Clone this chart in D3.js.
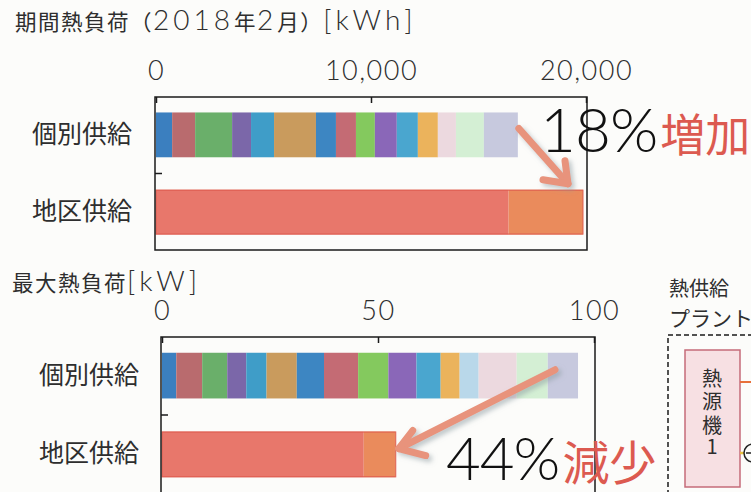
<!DOCTYPE html>
<html>
<head>
<meta charset="utf-8">
<script src="https://cdn.jsdelivr.net/npm/d3@7"></script>
<style>
  html, body { margin: 0; padding: 0; background: #fcfcfa; }
  svg { display: block; }
</style>
</head>
<body>
<svg id="chart" width="751" height="492"></svg>
<script>
// ---------- data ----------
const categories = ["個別供給", "地区供給"];
const buildingColors = ["#3b7fbf", "#b96b6e", "#6aaf6a", "#7b67a9", "#3f9dc8", "#c99b5d",
  "#3d86c2", "#c46b74", "#84c95e", "#8a67b8", "#4aa6cf", "#ebb35c",
  "#b9d8ea", "#ecd9df", "#d4efd4", "#c7c9de"];
const districtColors = ["#e8776b", "#ea8b5c"];

// 期間熱負荷 (kWh)
const energyTicks = [0, 10000, 20000];
const energyIndividual = [750, 1070, 1720, 880, 1070, 1950, 930, 930, 880, 1020, 980, 930, 0, 840, 1300, 1580];
const energyDistrict = [16400, 3460];
const energyNote = ["18%", "増加"];

// 最大熱負荷 (kW)
const peakTicks = [0, 50, 100];
const peakIndividual = [3.3, 6.0, 5.8, 4.4, 4.7, 7.0, 6.3, 7.9, 7.0, 6.5, 5.6, 4.4, 4.4, 8.8, 7.2, 7.0];
const peakDistrict = [46.7, 7.4];
const peakNote = ["44%", "減少"];

const titles = ["期間熱負荷（2018年2月）[kWh]", "最大熱負荷[kW]"];

// ---------- drawing ----------
const svg = d3.select("#chart");
const JP = "'Noto Sans CJK JP', 'Noto Sans', sans-serif";
const NUM = "Lato, 'Noto Sans', sans-serif";
const ink = "#2e2e2e";
const red = "#dc5a50";
const arrowCol = "#e8937b";

const defs = svg.append("defs");
const f = defs.append("filter").attr("id", "shadow").attr("x", "-30%").attr("y", "-30%").attr("width", "160%").attr("height", "160%");
f.append("feDropShadow").attr("dx", 3).attr("dy", 3).attr("stdDeviation", 2.5)
  .attr("flood-color", "#8a9aa0").attr("flood-opacity", 0.55);

function stack(vals) {
  let acc = 0;
  return vals.map((v, i) => { const s = { x0: acc, x1: acc + v, i }; acc += v; return s; });
}

// title with CJK runs and Latin runs in different fonts
function mixedTitle(g, str, x0, y0) {
  const t = g.append("text").attr("x", x0).attr("y", y0).attr("fill", ink);
  const runs = str.match(/[\x20-\x7E]+|[^\x20-\x7E]+/g);
  runs.forEach(r => {
    const ascii = /^[\x20-\x7E]+$/.test(r);
    t.append("tspan")
      .attr("font-family", ascii ? NUM : JP)
      .attr("font-size", ascii ? 28 : 21.5)
      .attr("font-weight", ascii ? 300 : 400)
      .attr("letter-spacing", ascii ? 4 : 1.5)
      .text(r);
  });
  return t;
}

function panel(cfg) {
  const x = d3.scaleLinear().domain(cfg.domain).range([cfg.left, cfg.right]);
  const y = d3.scaleBand().domain(categories).range([cfg.top, cfg.bottom])
    .paddingInner(0.42).paddingOuter(0.2);
  const g = svg.append("g");

  mixedTitle(g, cfg.title, cfg.titleX, cfg.titleY);

  // individual stacked bar
  g.append("g").selectAll("rect").data(stack(cfg.indiv)).join("rect")
    .attr("x", d => x(d.x0)).attr("width", d => Math.max(0, x(d.x1) - x(d.x0)))
    .attr("y", y(categories[0])).attr("height", y.bandwidth())
    .attr("fill", d => buildingColors[d.i]);

  // district stacked bar
  g.append("g").selectAll("rect").data(stack(cfg.district)).join("rect")
    .attr("x", d => x(d.x0)).attr("width", d => x(d.x1) - x(d.x0))
    .attr("y", y(categories[1])).attr("height", y.bandwidth())
    .attr("fill", d => districtColors[d.i]);
  const dTot = d3.sum(cfg.district);
  g.append("rect").attr("x", x(0)).attr("width", x(dTot) - x(0))
    .attr("y", y(categories[1]) + 0.5).attr("height", y.bandwidth() - 1)
    .attr("fill", "none").attr("stroke", "#dd5a4e").attr("stroke-width", 1.2).attr("stroke-opacity", 0.8);

  // frame
  g.append("rect").attr("x", cfg.left - 1).attr("y", cfg.top)
    .attr("width", cfg.right - cfg.left + 2).attr("height", cfg.frameBottom - cfg.top)
    .attr("fill", "none").attr("stroke", "#1a1a1a").attr("stroke-width", 1.5);

  // top axis
  const ax = g.append("g").attr("transform", `translate(0,${cfg.top})`)
    .call(d3.axisTop(x).tickValues(cfg.ticks).tickSizeInner(-6).tickSizeOuter(0)
      .tickPadding(cfg.tickPad).tickFormat(d3.format(",")));
  ax.select(".domain").remove();
  ax.selectAll("line").attr("stroke", "#1a1a1a").attr("stroke-width", 1.5);
  ax.selectAll("text").attr("font-family", NUM).attr("font-weight", 300)
    .attr("font-size", 27).attr("fill", ink).attr("letter-spacing", cfg.numSpacing);

  // left axis (category labels)
  const ay = g.append("g").attr("transform", `translate(${cfg.left},0)`)
    .call(d3.axisLeft(y).tickSize(0).tickPadding(cfg.labelPad));
  ay.select(".domain").remove();
  ay.selectAll("text").attr("font-family", JP).attr("font-size", 25).attr("fill", ink);

  // separator tick between categories
  const mid = (y(categories[0]) + y.bandwidth() + y(categories[1])) / 2;
  g.append("line").attr("x1", cfg.left - 1).attr("x2", cfg.left + 6)
    .attr("y1", mid).attr("y2", mid).attr("stroke", "#1a1a1a").attr("stroke-width", 1.5);

  return { x, y, g, iTot: d3.sum(cfg.indiv), dTot };
}

function arrow(g, x1, y1, x2, y2, armA, armB) {
  const a = g.append("g").attr("filter", "url(#shadow)")
    .attr("stroke", arrowCol).attr("stroke-width", 7).attr("stroke-linecap", "round")
    .attr("stroke-linejoin", "round").attr("fill", "none");
  a.append("line").attr("x1", x1).attr("y1", y1).attr("x2", x2).attr("y2", y2);
  a.append("polyline").attr("points", [armA, [x2, y2], armB].map(p => p.join(",")).join(" "));
}

function note(g, x0, y0, parts, numSize, jpSize) {
  const t = g.append("text").attr("x", x0).attr("y", y0);
  t.append("tspan").attr("font-family", NUM).attr("font-weight", 300)
    .attr("font-size", numSize).attr("fill", "#111").attr("letter-spacing", -1).text(parts[0]);
  t.append("tspan").attr("font-family", JP)
    .attr("font-size", jpSize).attr("fill", red)
    .attr("dx", 3).text(parts[1]);
}

// panel 1: energy
const p1 = panel({
  title: titles[0], titleX: 15, titleY: 30,
  domain: [0, 20000], ticks: energyTicks,
  left: 156, right: 586, top: 97, bottom: 250, frameBottom: 250,
  tickPad: 17, labelPad: 24, numSpacing: 1.5,
  indiv: energyIndividual, district: energyDistrict
});
{
  const x = p1.x, y = p1.y;
  const sx = x(p1.iTot) + 1, sy = y(categories[0]) + 16;
  const tx = x(p1.dTot) - 15, ty = y(categories[1]) - 6;
  arrow(p1.g, sx, sy, tx, ty, [tx - 25, ty - 4], [tx - 3, ty - 23]);
  note(p1.g, 540, 152, energyNote, 62, 45);
}

// panel 2: peak
const p2 = panel({
  title: titles[1], titleX: 12, titleY: 291,
  domain: [0, 100], ticks: peakTicks,
  left: 162, right: 594, top: 337, bottom: 493, frameBottom: 500,
  tickPad: 17, labelPad: 23, numSpacing: 1.5,
  indiv: peakIndividual, district: peakDistrict
});
{
  const x = p2.x, y = p2.y;
  const sx = x(p2.iTot) - 23, sy = y(categories[0]) + 17;
  const tx = x(p2.dTot) + 3, ty = y(categories[1]) + 17;
  arrow(p2.g, sx, sy, tx, ty, [tx + 14, ty - 18], [tx + 27, ty + 7]);
  note(p2.g, 446, 480, peakNote, 60, 47);
}

// partial neighbouring diagram (熱供給プラント)
const side = svg.append("g");
side.append("text").attr("x", 669).attr("y", 296).attr("font-family", JP)
  .attr("font-size", 20).attr("fill", ink).text("熱供給");
side.append("text").attr("x", 669).attr("y", 326).attr("font-family", JP)
  .attr("font-size", 21).attr("fill", ink).text("プラント");
side.append("rect").attr("x", 668).attr("y", 335).attr("width", 120).attr("height", 200)
  .attr("fill", "none").attr("stroke", "#1a1a1a").attr("stroke-width", 1.5).attr("stroke-dasharray", "5,3");
side.append("rect").attr("x", 685).attr("y", 350).attr("width", 55).attr("height", 137)
  .attr("fill", "#f7e0e3").attr("stroke", "#c56b79").attr("stroke-width", 1.5);
const vt = side.append("text").attr("text-anchor", "middle").attr("font-family", JP)
  .attr("font-size", 20).attr("fill", ink);
["熱", "源", "機", "1"].forEach((c, i) => {
  vt.append("tspan").attr("x", 712).attr("y", [386, 409, 433, 454][i]).text(c);
});
side.append("line").attr("x1", 740).attr("x2", 751).attr("y1", 382).attr("y2", 382)
  .attr("stroke", "#e8703a").attr("stroke-width", 2);
side.append("line").attr("x1", 740).attr("x2", 744).attr("y1", 453).attr("y2", 453)
  .attr("stroke", "#e8c040").attr("stroke-width", 2.5);
side.append("circle").attr("cx", 753).attr("cy", 453).attr("r", 9)
  .attr("fill", "none").attr("stroke", "#222").attr("stroke-width", 1.5);
side.append("line").attr("x1", 746).attr("x2", 751).attr("y1", 453).attr("y2", 453)
  .attr("stroke", "#222").attr("stroke-width", 1.5);
</script>
</body>
</html>
